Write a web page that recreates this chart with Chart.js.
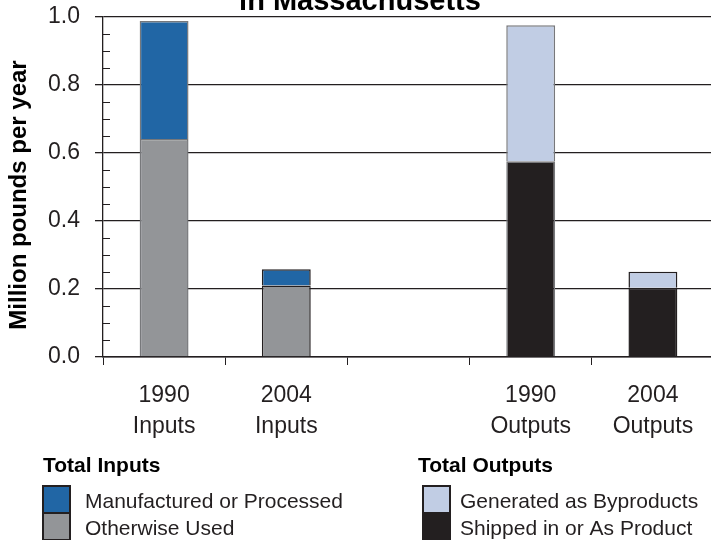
<!DOCTYPE html>
<html>
<head>
<meta charset="utf-8">
<script src="https://cdn.jsdelivr.net/npm/chart.js@4.4.1/dist/chart.umd.min.js"></script>
<style>
  html, body { margin: 0; padding: 0; background: #fff; overflow: hidden; }
  #wrap { position: absolute; left: 0; top: 0; width: 716px; height: 540px; }
</style>
</head>
<body>
<div id="wrap"><canvas id="grafico" width="716" height="540"></canvas></div>
<script>
// dados
const categorias = [['1990', 'Inputs'], ['2004', 'Inputs'], '', ['1990', 'Outputs'], ['2004', 'Outputs']];
const otherwiseUsed = [0.641, 0.210, null, null, null];
const manufactured = [0.347, 0.048, null, null, null];
const shippedIn = [null, null, null, 0.576, 0.204];
const byproducts = [null, null, null, 0.400, 0.047];
const yTicks = [0, 0.2, 0.4, 0.6, 0.8, 1.0];
const yMinorTicks = [0.05, 0.1, 0.15, 0.25, 0.3, 0.35, 0.45, 0.5, 0.55, 0.65, 0.7, 0.75, 0.85, 0.9, 0.95];

const manufacturedLabel = 'Manufactured or Processed';
const otherwiseLabel = 'Otherwise Used';
const byproductsLabel = 'Generated as Byproducts';
const shippedLabel = 'Shipped in or As Product';

const TINTA = '#231f20';
const CORES = { azul: '#2166a5', cinza: '#939598', claro: '#c1cde4', preto: '#231f20' };
const BORDAS = ['#77787b', TINTA, TINTA, '#77787b', TINTA];
const FONTE = '"Liberation Sans", Arial, sans-serif';

// titulo + titulo do eixo + legenda + ticks menores
const extras = {
    id: 'extras',
    afterDraw(chart) {
        const ctx = chart.ctx;
        const y = chart.scales.y;
        ctx.save();

        // ticks menores para dentro do eixo
        ctx.strokeStyle = TINTA;
        ctx.lineWidth = 1;
        yMinorTicks.forEach(v => {
            const p = Math.round(y.getPixelForValue(v)) + 0.5;
            ctx.beginPath(); ctx.moveTo(y.right, p); ctx.lineTo(y.right + 7, p); ctx.stroke();
        });

        // titulo (primeira linha fica fora da imagem)
        ctx.fillStyle = '#000';
        ctx.font = 'bold 29px ' + FONTE;
        ctx.textAlign = 'center';
        ctx.textBaseline = 'alphabetic';
        ctx.fillText('in Massachusetts', 360, 10);

        // titulo do eixo Y
        ctx.save();
        ctx.translate(19, 195);
        ctx.rotate(-Math.PI / 2);
        ctx.font = 'bold 24px ' + FONTE;
        ctx.textBaseline = 'middle';
        ctx.fillText('Million pounds per year', 0, 0);
        ctx.restore();

        // legenda em dois grupos
        const grupos = [
            { x: 43, bx: 43, titulo: 'Total Inputs', itens: [[manufacturedLabel, CORES.azul], [otherwiseLabel, CORES.cinza]] },
            { x: 418, bx: 423, titulo: 'Total Outputs', itens: [[byproductsLabel, CORES.claro], [shippedLabel, CORES.preto]] }
        ];
        grupos.forEach(g => {
            ctx.textAlign = 'left';
            ctx.fillStyle = '#000';
            ctx.font = 'bold 21px ' + FONTE;
            ctx.fillText(g.titulo, g.x, 472);
            g.itens.forEach((it, i) => {
                const by = 486 + i * 27;
                ctx.fillStyle = it[1];
                ctx.fillRect(g.bx, by, 27, 27);
                ctx.strokeStyle = TINTA;
                ctx.lineWidth = 2;
                ctx.strokeRect(g.bx, by, 27, 27);
                ctx.fillStyle = TINTA;
                ctx.font = '21px ' + FONTE;
                ctx.fillText(it[0], g.x + 42, 508 + i * 27);
            });
        });
        ctx.restore();
    }
};

new Chart(document.getElementById('grafico'), {
    type: 'bar',
    data: {
        labels: categorias,
        datasets: [
            { label: otherwiseLabel, data: otherwiseUsed, backgroundColor: CORES.cinza, borderColor: BORDAS, borderWidth: 1.5 },
            { label: manufacturedLabel, data: manufactured, backgroundColor: CORES.azul, borderColor: BORDAS, borderWidth: 1.5 },
            { label: shippedLabel, data: shippedIn, backgroundColor: CORES.preto, borderColor: BORDAS, borderWidth: 1.5 },
            { label: byproductsLabel, data: byproducts, backgroundColor: CORES.claro, borderColor: BORDAS, borderWidth: 1.5 }
        ]
    },
    options: {
        responsive: false,
        animation: false,
        devicePixelRatio: 1,
        layout: { padding: { top: 17, right: 2, bottom: 93, left: 0 } },
        datasets: { bar: { categoryPercentage: 1, barPercentage: 0.4 } },
        plugins: { legend: { display: false }, tooltip: { enabled: false } },
        scales: {
            x: {
                stacked: true,
                afterFit: s => { s.height = 90; },
                grid: { display: true, drawOnChartArea: false, drawTicks: true, tickLength: 8, offset: true, color: TINTA, lineWidth: 1 },
                border: { display: true, color: TINTA, width: 1.5 },
                ticks: { color: TINTA, padding: 15, font: { family: FONTE, size: 23, lineHeight: 1.35 } }
            },
            y: {
                stacked: true,
                min: 0,
                max: 1,
                afterFit: s => { s.width = 103; s.paddingTop = 0; s.paddingBottom = 0; },
                afterBuildTicks: s => { s.ticks = yTicks.map(v => ({ value: v })); },
                grid: { color: TINTA, lineWidth: 1.3, tickLength: 8 },
                border: { display: true, color: TINTA, width: 1.3 },
                ticks: {
                    color: TINTA, padding: 15,
                    font: { family: FONTE, size: 23 },
                    callback: v => v.toFixed(1)
                },
                title: { display: false }
            }
        }
    },
    plugins: [extras]
});
</script>
</body>
</html>
